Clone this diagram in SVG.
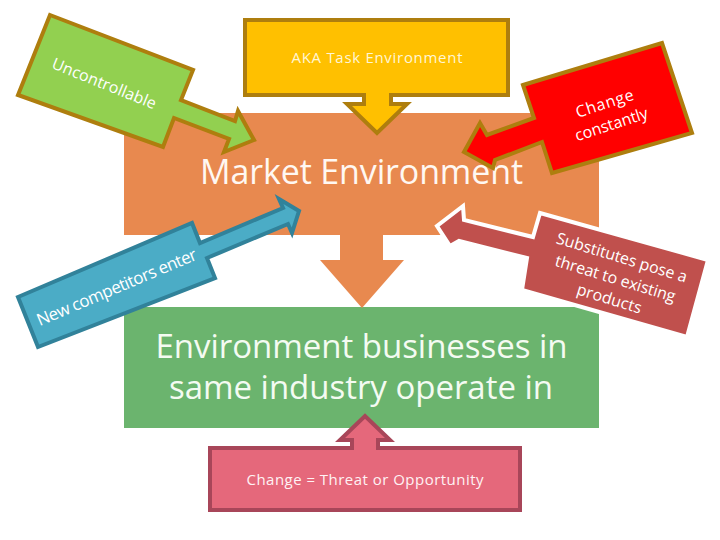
<svg xmlns="http://www.w3.org/2000/svg" width="720" height="540" viewBox="0 0 720 540">
<style>
text{font-family:"Open Sans","Liberation Sans",sans-serif;text-anchor:middle}
.big{font-size:34px;fill:#FFF8F2}
.mid{font-size:33px;fill:#F4FBF2}
.small{font-size:15px}
.call{font-size:16px;fill:#FFFFFF}
.co{stroke-width:4;stroke-linejoin:miter}
</style>
<rect width="720" height="540" fill="#FFFFFF"/>
<g id="market-environment">
<rect x="124" y="113" width="475" height="122" fill="#E8894F"/>
<text class="big" x="361.5" y="184" textLength="323">Market Environment</text>
</g>
<g id="industry-environment">
<rect x="124" y="307" width="475" height="121" fill="#6BB46E"/>
<text class="mid" x="361.5" y="358" textLength="412">Environment businesses in</text>
<text class="mid" x="361" y="399" textLength="384">same industry operate in</text>
</g>
<g id="connectors">
<path d="M340,235 H383 V260 H404 L362,308 L320,260 H340 Z" fill="#E8894F"/>
</g>
<g id="callout-task">
<path class="co" d="M245,20 H508 V95 H391 V104 H407 L377,133 L347,104 H364 V95 H245 Z" fill="#FFC000" stroke="#AE7E0E"/>
<text class="small" x="377" y="63" fill="#FFF6D5" textLength="171">AKA Task Environment</text>
</g>
<g id="callout-uncontrollable">
<path class="co" d="M50,15 L193,70 L181,100 L235,121 L238,111 L254,140 L224,152 L229,139 L174,118 L163,147 L18,95 Z" fill="#92D050" stroke="#AE7E0E"/>
<text class="call" transform="translate(104,84) rotate(22)" y="5" fill="#F2F8E8" textLength="111">Uncontrollable</text>
</g>
<g id="callout-change">
<path class="co" d="M523,85 L662,43 L692,133 L552,173 L542,142 L495,160 L493,168 L464,152 L480,123 L487,135 L534,118 Z" fill="#FF0000" stroke="#AE7E0E"/>
<g transform="translate(608,114) rotate(-18)">
<text class="call" y="-5.6" textLength="60">Change</text>
<text class="call" y="16.4" textLength="76">constantly</text>
</g>
</g>
<g id="callout-competitors">
<path class="co" d="M18,297 L192,223 L200,243 L283,208 L279,199 L299,211 L292,233 L288,224 L207,258 L215,278 L38,347 Z" fill="#4BACC6" stroke="#31829A"/>
<text class="call" font-size="17" style="font-size:17px" transform="translate(117,288) rotate(-23)" y="5" textLength="172">New competitors enter</text>
</g>
<g id="callout-substitutes">
<path class="co" d="M540,213 L708,260 L687,337 L522,290 L527,258 L459,241 L450,246 L437,226 L463,206 L464,220 L533,237 Z" fill="#C0504D" stroke="#FFFFFF"/>
<g transform="translate(615,280) rotate(17)">
<text class="call" y="-18" textLength="136">Substitutes pose a</text>
<text class="call" y="4" textLength="125">threat to existing</text>
<text class="call" y="25" textLength="67">products</text>
</g>
</g>
<g id="callout-opportunity">
<path class="co" d="M210,448 H352 V440 H340 L365,416 L390,440 H378 V448 H520 V510 H210 Z" fill="#E5687B" stroke="#A84659"/>
<text class="small" x="365" y="485" fill="#FFF2F4" textLength="237">Change = Threat or Opportunity</text>
</g>
</svg>
